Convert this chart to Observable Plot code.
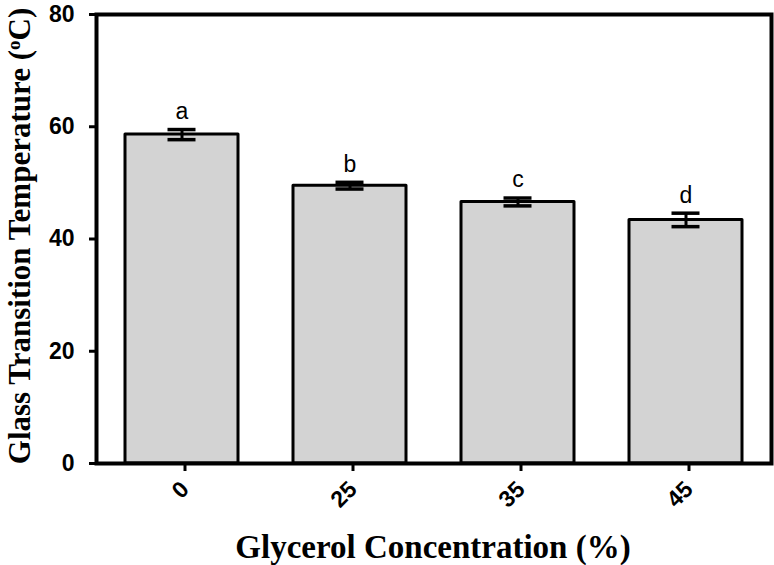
<!DOCTYPE html>
<html>
<head>
<meta charset="utf-8">
<script src="https://cdn.jsdelivr.net/npm/d3@7"></script>
<script src="https://cdn.jsdelivr.net/npm/@observablehq/plot@0.6"></script>
<style>
  html, body { margin: 0; padding: 0; background: #fff; }
  #chart { width: 774px; height: 565px; }
</style>
</head>
<body>
<div id="chart"></div>
<script>
const concentrations = ["0", "25", "35", "45"];
const tgMeans = [58.6, 49.5, 46.6, 43.4];
const tgErrors = [0.9, 0.6, 0.7, 1.2];
const groupLetters = ["a", "b", "c", "d"];
const yTicks = [0, 20, 40, 60, 80];

const data = concentrations.map((c, i) => ({
  conc: c, mean: tgMeans[i], err: tgErrors[i], letter: groupLetters[i],
  lo: tgMeans[i] - tgErrors[i], hi: tgMeans[i] + tgErrors[i]
}));

const sans = "'Liberation Sans', Arial, sans-serif";
const serif = "'Liberation Serif', 'Times New Roman', serif";

const chart = Plot.plot({
  width: 774,
  height: 565,
  marginLeft: 96,
  marginRight: 3,
  marginTop: 14,
  marginBottom: 102,
  style: { background: "#fff", color: "#000", fontFamily: sans, fontSize: "23px", fontWeight: "bold" },
  x: { domain: concentrations, paddingInner: 0.33, paddingOuter: 0.165, label: null },
  y: { domain: [0, 80], label: null },
  marks: [
    Plot.barY(data, { x: "conc", y: "mean", fill: "#d3d3d3", stroke: "#000", strokeWidth: 3, strokeLinejoin: "round" }),
    Plot.ruleX(data, { x: "conc", y1: "lo", y2: "hi", stroke: "#000", strokeWidth: 3 }),
    Plot.tickY(data, { x: "conc", y: "hi", stroke: "#000", strokeWidth: 3.5, insetLeft: 42.5, insetRight: 42.5 }),
    Plot.tickY(data, { x: "conc", y: "lo", stroke: "#000", strokeWidth: 3.5, insetLeft: 42.5, insetRight: 42.5 }),
    Plot.text(data, { x: "conc", y: "hi", text: "letter", dy: -18, fontSize: 23, fontWeight: "normal", fontFamily: sans, fill: "#000" }),
    Plot.frame({ stroke: "#000", strokeWidth: 4 }),
    Plot.axisY({ ticks: yTicks, tickSize: 7, tickPadding: 15, fontSize: 23, fontWeight: "bold", fontFamily: sans, strokeWidth: 3, label: null }),
    Plot.axisX({ tickSize: 8, tickPadding: 14, dx: 3, tickRotate: -45, fontSize: 23, fontWeight: "bold", fontFamily: sans, strokeWidth: 3, label: null })
  ]
});

document.getElementById("chart").appendChild(chart);

const svg = d3.select(chart);

svg.append("text")
  .attr("x", 433).attr("y", 558)
  .attr("text-anchor", "middle")
  .attr("font-family", serif).attr("font-weight", "bold").attr("font-size", 33)
  .attr("fill", "#000")
  .text("Glycerol Concentration (%)");

const yt = svg.append("text")
  .attr("transform", "translate(30,236) rotate(-90)")
  .attr("text-anchor", "middle")
  .attr("font-family", serif).attr("font-weight", "bold").attr("font-size", 31)
  .attr("fill", "#000");
yt.append("tspan").text("Glass Transition Temperature (");
yt.append("tspan").attr("baseline-shift", "super").attr("font-size", 19).text("o");
yt.append("tspan").text("C)");
</script>
</body>
</html>
